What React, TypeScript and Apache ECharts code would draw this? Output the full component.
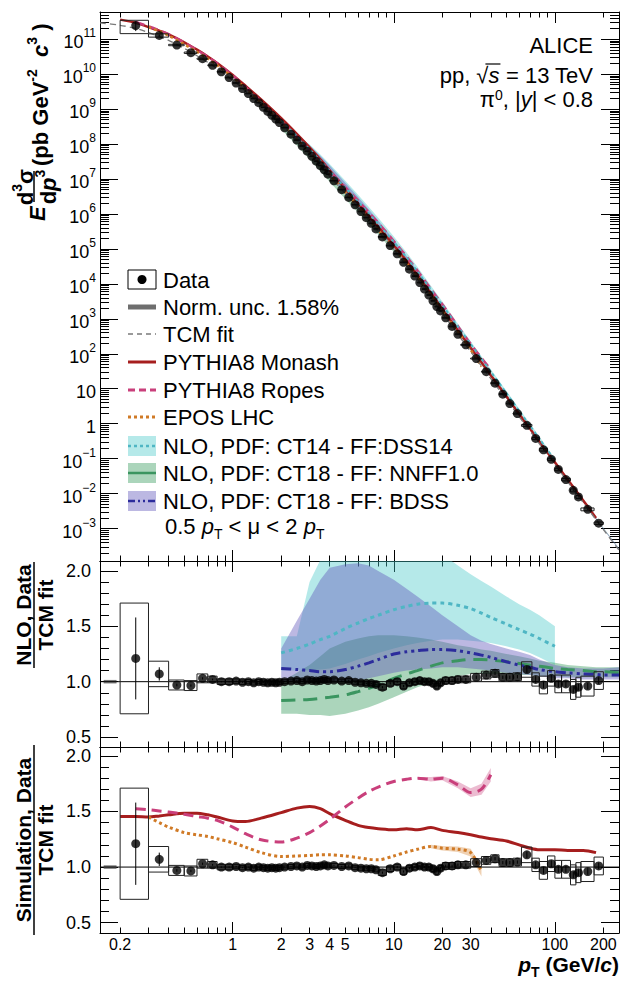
import React, { useEffect, useRef } from 'react';
import * as echarts from 'echarts';

const FONT = '"Liberation Sans", Arial, Helvetica, sans-serif';

// ---------- axis ranges & ticks ----------
const X_MIN = 0.15;
const X_MAX = 250;
const SPEC_MIN = 1.175e-4;
const SPEC_MAX = 6.03e11;
const R2_MIN = 0.41;
const R2_MAX = 2.09;
const R3_MIN = 0.407;
const R3_MAX = 2.08;

const xLabelValues = [0.2, 1, 2, 3, 4, 5, 10, 20, 30, 100, 200];
const xMajorTicks = [1, 10, 100];
const xMinorTicks = [0.2, 0.3, 0.4, 0.5, 0.6, 0.7, 0.8, 0.9, 2, 3, 4, 5, 6, 7, 8, 9, 20, 30, 40, 50, 60, 70, 80, 90, 200];
const specMajorTicks = [1e-3, 1e-2, 1e-1, 1, 10, 1e2, 1e3, 1e4, 1e5, 1e6, 1e7, 1e8, 1e9, 1e10, 1e11];
const specMinorTicks: number[] = [];
for (let e = -4; e <= 11; e++) for (let m = 2; m <= 9; m++) specMinorTicks.push(m * Math.pow(10, e));
const ratioLabelValues = [0.5, 1.0, 1.5, 2.0];
const ratioMinorTicks = [0.5, 0.6, 0.7, 0.8, 0.9, 1.0, 1.1, 1.2, 1.3, 1.4, 1.5, 1.6, 1.7, 1.8, 1.9, 2.0];

// ---------- data points ----------
const ptC = [0.25, 0.35, 0.45, 0.55, 0.65, 0.75, 0.85, 0.95, 1.05, 1.15, 1.25, 1.35, 1.45, 1.55, 1.65, 1.75, 1.85, 1.95,
  2.1, 2.3, 2.5, 2.7, 2.9, 3.1, 3.3, 3.5, 3.7, 3.9,
  4.25, 4.75, 5.25, 5.75, 6.25, 6.75, 7.25, 7.75,
  8.5, 9.5, 10.5, 11.5, 12.5, 13.5, 14.5, 15.5, 16.5, 17.5, 18.5, 19.5,
  21, 23, 25, 28,
  32.5, 37.5, 42.5, 47.5, 52.5, 58.5, 67, 76, 85, 95, 105, 117, 130, 140, 160, 187];
const ptLo = [0.2, 0.3, 0.4, 0.5, 0.6, 0.7, 0.8, 0.9, 1.0, 1.1, 1.2, 1.3, 1.4, 1.5, 1.6, 1.7, 1.8, 1.9,
  2.0, 2.2, 2.4, 2.6, 2.8, 3.0, 3.2, 3.4, 3.6, 3.8,
  4.0, 4.5, 5.0, 5.5, 6.0, 6.5, 7.0, 7.5,
  8, 9, 10, 11, 12, 13, 14, 15, 16, 17, 18, 19,
  20, 22, 24, 26,
  30, 35, 40, 45, 50, 55, 62, 72, 80, 90, 100, 110, 125, 135, 145, 175];
const ptHi = [0.3, 0.4, 0.5, 0.6, 0.7, 0.8, 0.9, 1.0, 1.1, 1.2, 1.3, 1.4, 1.5, 1.6, 1.7, 1.8, 1.9, 2.0,
  2.2, 2.4, 2.6, 2.8, 3.0, 3.2, 3.4, 3.6, 3.8, 4.0,
  4.5, 5.0, 5.5, 6.0, 6.5, 7.0, 7.5, 8.0,
  9, 10, 11, 12, 13, 14, 15, 16, 17, 18, 19, 20,
  22, 24, 26, 30,
  35, 40, 45, 50, 55, 62, 72, 80, 90, 100, 110, 125, 135, 145, 175, 200];
const dataRatio = [1.21, 1.07, 0.97, 0.965, 1.03, 1.02, 1.0, 1.0, 1.005, 0.995, 1.0, 0.99, 1.0, 0.995, 0.99, 0.995, 0.99, 0.995,
  1.0, 1.005, 1.01, 1.0, 1.015, 1.01, 1.005, 1.01, 1.02, 1.01,
  1.015, 1.005, 1.01, 0.995, 0.99, 0.985, 0.985, 0.975,
  0.95, 0.985, 1.0, 0.96, 0.99, 1.0, 1.01, 1.0, 1.0, 0.985, 0.96, 0.99,
  1.01, 1.01, 1.02, 1.02,
  1.04, 1.06, 1.075, 1.04, 1.04, 1.045, 1.11, 1.02, 0.97, 1.03, 0.98, 0.98, 0.93, 0.95, 0.96, 1.01];
const statErr = [0.37, 0.06, 0.012, 0.01, 0.01, 0.008, 0.006, 0.006, 0.005, 0.005, 0.005, 0.005, 0.005, 0.005, 0.005, 0.005, 0.005, 0.005,
  0.005, 0.005, 0.005, 0.005, 0.005, 0.005, 0.005, 0.005, 0.005, 0.005,
  0.006, 0.006, 0.006, 0.006, 0.006, 0.006, 0.006, 0.006,
  0.01, 0.01, 0.01, 0.01, 0.01, 0.01, 0.01, 0.01, 0.01, 0.01, 0.01, 0.01,
  0.012, 0.012, 0.012, 0.012,
  0.015, 0.015, 0.015, 0.015, 0.015, 0.015, 0.03, 0.03, 0.03, 0.03, 0.03, 0.03, 0.03, 0.03, 0.03, 0.03];
const sysErr = [0.5, 0.115, 0.045, 0.045, 0.04, 0.03, 0.025, 0.025, 0.02, 0.02, 0.02, 0.02, 0.02, 0.02, 0.02, 0.02, 0.02, 0.02,
  0.018, 0.018, 0.018, 0.018, 0.018, 0.018, 0.018, 0.018, 0.018, 0.018,
  0.018, 0.018, 0.018, 0.018, 0.018, 0.018, 0.018, 0.018,
  0.025, 0.025, 0.025, 0.025, 0.025, 0.025, 0.025, 0.025, 0.025, 0.025, 0.025, 0.025,
  0.03, 0.03, 0.03, 0.03,
  0.035, 0.035, 0.035, 0.035, 0.035, 0.035, 0.07, 0.06, 0.08, 0.07, 0.08, 0.08, 0.09, 0.09, 0.09, 0.08];
const spectrum = [2.47e11, 1.29e11, 6.85e10, 4.12e10, 2.78e10, 1.80e10, 1.175e10, 8.02e9, 5.61e9, 3.90e9,
  2.80e9, 2.02e9, 1.53e9, 1.135e9, 8.59e8, 6.65e8, 5.19e8, 4.14e8,
  2.94e8, 1.92e8, 1.30e8, 8.81e7, 6.29e7, 4.49e7, 3.25e7, 2.42e7, 1.84e7, 1.38e7,
  8.92e6, 4.98e6, 2.98e6, 1.84e6, 1.18e6, 7.86e5, 5.40e5, 3.74e5,
  2.21e5, 1.245e5, 7.23e4, 4.14e4, 2.63e4, 1.67e4, 1.09e4, 7.11e3, 4.81e3, 3.27e3, 2.25e3, 1.68e3,
  1.07e3, 605, 362, 180,
  73.1, 30.8, 14.4, 7.0, 3.77, 1.94, 0.894, 0.377, 0.179, 0.0957, 0.049, 0.0251, 0.0124, 0.00802, 0.00354, 0.00142];
const normUnc = 0.0158;

// ---------- curves ----------
const gridPt = [0.15, 0.2, 0.25, 0.3, 0.35, 0.4, 0.5, 0.6, 0.7, 0.8, 1.0, 1.2, 1.5, 2, 2.5, 3, 3.5, 4, 5, 6, 7, 8, 10, 12, 14, 17, 20, 25, 30, 35, 40, 50, 60, 70, 80, 100, 120, 150, 180, 200, 250];
const tcmFit = [2.95e11, 2.51e11, 2.04e11, 1.55e11, 1.20e11, 9.33e10, 5.50e10, 3.39e10, 2.19e10, 1.45e10, 6.76e9, 3.31e9, 1.32e9, 3.72e8, 1.29e8, 5.25e7, 2.40e7, 1.20e7, 3.80e6, 1.48e6, 6.61e5, 3.24e5, 9.55e4, 3.39e4, 1.35e4, 3.98e3, 1.45e3, 355, 115, 44.7, 19.5, 4.90, 1.58, 0.617, 0.269, 0.0676, 0.0219, 0.0055, 0.00178, 0.00093, 0.00024];
const monashRatio = [null, 1.455, 1.455, 1.45, 1.46, 1.47, 1.485, 1.485, 1.47, 1.45, 1.415, 1.41, 1.44, 1.49, 1.53, 1.545, 1.525, 1.48, 1.42, 1.375, 1.355, 1.345, 1.335, 1.345, 1.335, 1.355, 1.33, 1.31, 1.29, 1.27, 1.255, 1.235, 1.2, 1.17, 1.155, 1.155, 1.15, 1.15, 1.13, null, null];
const ropesRatio = [null, null, 1.525, 1.515, 1.505, 1.495, 1.475, 1.455, 1.44, 1.42, 1.36, 1.3, 1.245, 1.225, 1.26, 1.31, 1.37, 1.43, 1.54, 1.62, 1.68, 1.72, 1.77, 1.79, 1.8, 1.79, 1.8, 1.74, 1.67, 1.7, 1.83, null, null, null, null, null, null, null, null, null, null];
const ropesErr = [null, null, null, null, null, null, null, null, null, null, null, null, null, null, null, null, null, null, null, null, null, null, null, null, 0.01, 0.02, 0.02, 0.03, 0.04, 0.05, 0.06, null, null, null, null, null, null, null, null, null, null];
const eposRatio = [null, null, null, 1.45, 1.4, 1.36, 1.31, 1.29, 1.275, 1.255, 1.22, 1.18, 1.13, 1.095, 1.1, 1.105, 1.11, 1.11, 1.1, 1.085, 1.07, 1.065, 1.1, 1.135, 1.16, 1.185, 1.17, 1.16, 1.13, 0.96, null, null, null, null, null, null, null, null, null, null, null];
const eposErr = [null, null, null, null, null, null, null, null, null, null, null, null, null, null, null, null, null, null, null, null, null, null, null, null, null, 0.015, 0.02, 0.025, 0.035, 0.045, null, null, null, null, null, null, null, null, null, null, null];

// NLO on pT = 2 ... 250 (gridPt from index 13)
const NLO_START = 13;
const ct14Mid = [1.26, 1.3, 1.34, 1.38, 1.41, 1.48, 1.53, 1.57, 1.6, 1.65, 1.68, 1.7, 1.71, 1.71, 1.69, 1.66, 1.62, 1.58, 1.52, 1.47, 1.43, 1.39, 1.32, null, null, null, null, null];
const ct14Hi = [1.41, 1.41, 1.9, 2.1, 2.25, 2.35, 2.4, 2.4, 2.4, 2.38, 2.34, 2.3, 2.22, 2.15, 2.05, 1.97, 1.91, 1.86, 1.77, 1.7, 1.65, 1.6, 1.5, null, null, null, null, null];
const ct14Lo = [1.1, 1.1, 1.1, 1.11, 1.12, 1.16, 1.2, 1.23, 1.26, 1.3, 1.33, 1.35, 1.37, 1.38, 1.38, 1.37, 1.36, 1.35, 1.32, 1.29, 1.26, 1.22, 1.15, null, null, null, null, null];
const bdssMid = [1.12, 1.11, 1.1, 1.09, 1.09, 1.11, 1.14, 1.17, 1.2, 1.25, 1.27, 1.28, 1.29, 1.29, 1.28, 1.26, 1.24, 1.22, 1.18, 1.15, 1.13, 1.11, 1.09, 1.08, 1.07, 1.065, 1.06, 1.06];
const bdssHi = [1.3, 1.55, 1.75, 1.92, 2.03, 2.06, 2.07, 2.05, 2.0, 1.92, 1.84, 1.77, 1.68, 1.6, 1.5, 1.42, 1.37, 1.34, 1.3, 1.27, 1.24, 1.2, 1.15, 1.13, 1.12, 1.12, 1.12, 1.13];
const bdssLo = [1.0, 1.0, 0.99, 0.99, 0.99, 1.0, 1.01, 1.03, 1.05, 1.08, 1.1, 1.11, 1.12, 1.13, 1.13, 1.12, 1.11, 1.1, 1.08, 1.07, 1.06, 1.05, 1.03, 1.03, 1.02, 1.02, 1.02, 1.02];
const nnffMid = [0.83, 0.835, 0.84, 0.85, 0.86, 0.88, 0.91, 0.94, 0.97, 1.03, 1.07, 1.1, 1.14, 1.17, 1.19, 1.2, 1.2, 1.195, 1.18, 1.165, 1.15, 1.14, 1.12, 1.11, 1.1, 1.09, 1.09, 1.08];
const nnffHi = [1.0, 1.08, 1.15, 1.23, 1.3, 1.36, 1.39, 1.41, 1.42, 1.42, 1.41, 1.4, 1.38, 1.36, 1.33, 1.31, 1.29, 1.28, 1.25, 1.23, 1.21, 1.19, 1.17, 1.15, 1.14, 1.13, 1.13, 1.13];
const nnffLo = [0.71, 0.71, 0.7, 0.7, 0.69, 0.71, 0.74, 0.77, 0.8, 0.86, 0.91, 0.95, 0.99, 1.02, 1.05, 1.07, 1.07, 1.07, 1.07, 1.06, 1.06, 1.05, 1.05, 1.04, 1.04, 1.04, 1.04, 1.04];

// ---------- colours ----------
const C_MONASH = '#a61e1e';
const C_ROPES = '#c93f7b';
const C_EPOS = '#d07a26';
const C_TCM = '#7a7a7a';
const C_CT14 = '#4fb6c4';
const C_NNFF = '#3b9560';
const C_BDSS = '#2c2c9c';
const F_CT14 = 'rgba(70,200,200,0.40)';
const F_NNFF = 'rgba(45,150,85,0.40)';
const F_BDSS = 'rgba(95,85,185,0.42)';
const F_ROPES = 'rgba(201,63,123,0.35)';
const F_EPOS = 'rgba(208,122,38,0.35)';

const axisLineStyle = { color: '#000', width: 1 };

function makeX(grid: number, labels: boolean) {
  const base: any = { type: 'log', logBase: 10, min: X_MIN, max: X_MAX, gridIndex: grid, splitLine: { show: false } };
  const lab = labels
    ? { show: true, customValues: xLabelValues, formatter: (v: number) => String(v), fontSize: 16, lineHeight: 16, color: '#000', fontFamily: FONT, margin: 3 }
    : { show: false };
  return [
    { ...base, position: 'bottom', axisLine: { show: true, onZero: false, lineStyle: axisLineStyle }, axisTick: { show: true, inside: true, length: 11, customValues: xMajorTicks, lineStyle: axisLineStyle }, axisLabel: lab },
    { ...base, position: 'bottom', axisLine: { show: false, onZero: false }, axisTick: { show: true, inside: true, length: 5.5, customValues: xMinorTicks, lineStyle: axisLineStyle }, axisLabel: { show: false } },
    { ...base, position: 'top', axisLine: { show: true, onZero: false, lineStyle: axisLineStyle }, axisTick: { show: true, inside: true, length: 11, customValues: xMajorTicks, lineStyle: axisLineStyle }, axisLabel: { show: false } },
    { ...base, position: 'top', axisLine: { show: false, onZero: false }, axisTick: { show: true, inside: true, length: 5.5, customValues: xMinorTicks, lineStyle: axisLineStyle }, axisLabel: { show: false } },
  ];
}

function makeY(grid: number, type: string, min: number, max: number, major: number[], minor: number[], label: any) {
  const base: any = { type, min, max, gridIndex: grid, splitLine: { show: false } };
  if (type === 'log') base.logBase = 10;
  return [
    { ...base, position: 'left', axisLine: { show: true, onZero: false, lineStyle: axisLineStyle }, axisTick: { show: true, inside: true, length: 18, customValues: major, lineStyle: axisLineStyle }, axisLabel: label },
    { ...base, position: 'left', axisLine: { show: false, onZero: false }, axisTick: { show: true, inside: true, length: 9, customValues: minor, lineStyle: axisLineStyle }, axisLabel: { show: false } },
    { ...base, position: 'right', axisLine: { show: true, onZero: false, lineStyle: axisLineStyle }, axisTick: { show: true, inside: true, length: 18, customValues: major, lineStyle: axisLineStyle }, axisLabel: { show: false } },
    { ...base, position: 'right', axisLine: { show: false, onZero: false }, axisTick: { show: true, inside: true, length: 9, customValues: minor, lineStyle: axisLineStyle }, axisLabel: { show: false } },
  ];
}

function clipRect(params: any) {
  const cs = params.coordSys;
  return { type: 'rect', shape: { x: cs.x, y: cs.y, width: cs.width, height: cs.height } };
}

function band(axis: number, pts: number[], lo: (number | null)[], hi: (number | null)[], fill: string, factor?: number[]) {
  return {
    type: 'custom', xAxisIndex: axis, yAxisIndex: axis, clip: true, silent: true, z: 1,
    data: [[pts[0], 1]], encode: { x: 0, y: 1 },
    renderItem: (params: any, api: any) => {
      const up: number[][] = [];
      const dn: number[][] = [];
      pts.forEach((p, i) => {
        if (lo[i] == null || hi[i] == null) return;
        const f = factor ? factor[i] : 1;
        up.push(api.coord([p, (hi[i] as number) * f]));
        dn.push(api.coord([p, (lo[i] as number) * f]));
      });
      return {
        type: 'polygon', shape: { points: up.concat(dn.reverse()) },
        style: { fill, stroke: 'none' }, clipPath: clipRect(params),
      };
    },
  };
}

function curve(axis: number, pts: number[], vals: (number | null)[], color: string, width: number, type: any, factor?: number[], z = 3) {
  const data: number[][] = [];
  pts.forEach((p, i) => {
    if (vals[i] != null) data.push([p, (vals[i] as number) * (factor ? factor[i] : 1)]);
  });
  return {
    type: 'line', xAxisIndex: axis, yAxisIndex: axis, data, showSymbol: false, symbol: 'none', smooth: 0.3,
    lineStyle: { color, width, type }, silent: true, z, animation: false,
  };
}

function dataSeries(axis: number, yv: number[], statAbs: number[], sysAbs: number[], size: number) {
  const rows = ptC.map((c, i) => [c, ptLo[i], ptHi[i], yv[i], yv[i] - statAbs[i], yv[i] + statAbs[i], yv[i] - sysAbs[i], yv[i] + sysAbs[i]]);
  return [
    {
      type: 'custom', xAxisIndex: axis, yAxisIndex: axis, clip: true, silent: true, z: 5,
      data: rows, encode: { x: 0, y: 3 },
      renderItem: (params: any, api: any) => {
        const a = api.coord([api.value(1), api.value(7)]);
        const b = api.coord([api.value(2), api.value(6)]);
        const s1 = api.coord([api.value(0), api.value(5)]);
        const s2 = api.coord([api.value(0), api.value(4)]);
        return {
          type: 'group', clipPath: clipRect(params),
          children: [
            { type: 'rect', shape: { x: a[0], y: a[1], width: b[0] - a[0], height: b[1] - a[1] }, style: { fill: 'none', stroke: '#222', lineWidth: 1 } },
            { type: 'line', shape: { x1: s1[0], y1: s1[1], x2: s2[0], y2: s2[1] }, style: { stroke: '#000', lineWidth: 1 } },
          ],
        };
      },
    },
    {
      type: 'scatter', xAxisIndex: axis, yAxisIndex: axis, data: ptC.map((c, i) => [c, yv[i]]),
      symbol: 'circle', symbolSize: size, itemStyle: { color: '#000' }, silent: true, z: 6,
    },
  ];
}

function normBox(axis: number) {
  return {
    type: 'custom', xAxisIndex: axis, yAxisIndex: axis, silent: true, z: 4,
    data: [[0.158, 1]], encode: { x: 0, y: 1 },
    renderItem: (params: any, api: any) => {
      const a = api.coord([0.158, 1 + normUnc]);
      const b = api.coord([0.19, 1 - normUnc]);
      return { type: 'rect', shape: { x: a[0], y: a[1], width: b[0] - a[0], height: Math.max(2, b[1] - a[1]) }, style: { fill: '#777' } };
    },
  };
}

function unityLine(axis: number) {
  return {
    type: 'line', xAxisIndex: axis, yAxisIndex: axis, data: [[X_MIN, 1], [X_MAX, 1]], showSymbol: false, symbol: 'none',
    lineStyle: { color: '#000', width: 1 }, silent: true, z: 4,
  };
}

function measure(t: string, font: string) {
  const ctx = document.createElement('canvas').getContext('2d');
  if (!ctx) return t.length * 10;
  ctx.font = font;
  return ctx.measureText(t).width;
}

function buildOption() {
  const P1 = 0, P2 = 4, P3 = 8;
  const nloPt = gridPt.slice(NLO_START);
  const nloTcm = tcmFit.slice(NLO_START);
  const spec = (arr: number[]) => arr.map((e, i) => (spectrum[i] * e) / dataRatio[i]);

  const specLabel = {
    show: true, customValues: specMajorTicks, margin: 4, color: '#000', fontFamily: FONT, fontSize: 18,
    formatter: (v: number) => {
      const e = Math.round(Math.log10(v));
      if (e === 0) return '{b|1}';
      if (e === 1) return '{b|10}';
      return '{b|10}{s|' + (e < 0 ? '\u2212' + -e : String(e)) + '}';
    },
    rich: {
      b: { fontSize: 18, fontFamily: FONT, color: '#000', lineHeight: 24, verticalAlign: 'bottom' },
      s: { fontSize: 12, fontFamily: FONT, color: '#000', lineHeight: 12, verticalAlign: 'top' },
    },
  };
  const ratioLabel = {
    show: true, customValues: ratioLabelValues, margin: 9, color: '#000', fontFamily: FONT, fontSize: 18,
    formatter: (v: number) => v.toFixed(1),
  };

  const ropesLo = ropesRatio.map((r, i) => (r != null && ropesErr[i] != null ? r - (ropesErr[i] as number) : null));
  const ropesHi = ropesRatio.map((r, i) => (r != null && ropesErr[i] != null ? r + (ropesErr[i] as number) : null));
  const eposLo = eposRatio.map((r, i) => (r != null && eposErr[i] != null ? r - (eposErr[i] as number) : null));
  const eposHi = eposRatio.map((r, i) => (r != null && eposErr[i] != null ? r + (eposErr[i] as number) : null));

  const series: any[] = [
    // ---- panel 1 ----
    band(P1, nloPt, ct14Lo, ct14Hi, F_CT14, nloTcm),
    band(P1, nloPt, nnffLo, nnffHi, F_NNFF, nloTcm),
    band(P1, nloPt, bdssLo, bdssHi, F_BDSS, nloTcm),
    curve(P1, gridPt, monashRatio, C_MONASH, 2.5, 'solid', tcmFit),
    curve(P1, gridPt, ropesRatio, C_ROPES, 2.5, [9, 5], tcmFit),
    curve(P1, gridPt, eposRatio, C_EPOS, 2.5, [3, 3], tcmFit),
    curve(P1, nloPt, ct14Mid, C_CT14, 2, [3, 3], nloTcm),
    curve(P1, gridPt, gridPt.map(() => 1), C_TCM, 1.3, [6, 4], tcmFit, 4),
    ...dataSeries(P1, spectrum, spec(statErr), spec(sysErr), 9),
    // ---- panel 2 ----
    band(P2, nloPt, ct14Lo, ct14Hi, F_CT14),
    band(P2, nloPt, nnffLo, nnffHi, F_NNFF),
    band(P2, nloPt, bdssLo, bdssHi, F_BDSS),
    curve(P2, nloPt, ct14Mid, C_CT14, 3, [4, 4]),
    curve(P2, nloPt, nnffMid, C_NNFF, 3, [14, 8]),
    curve(P2, nloPt, bdssMid, C_BDSS, 3, [10, 4, 3, 4, 3, 4]),
    unityLine(P2),
    normBox(P2),
    ...dataSeries(P2, dataRatio, statErr, sysErr, 9),
    // ---- panel 3 ----
    band(P3, gridPt, ropesLo, ropesHi, F_ROPES),
    band(P3, gridPt, eposLo, eposHi, F_EPOS),
    curve(P3, gridPt, monashRatio, C_MONASH, 3, 'solid'),
    curve(P3, gridPt, ropesRatio, C_ROPES, 3, [10, 6]),
    curve(P3, gridPt, eposRatio, C_EPOS, 3, [3, 3]),
    unityLine(P3),
    normBox(P3),
    ...dataSeries(P3, dataRatio, statErr, sysErr, 9),
  ];

  // ---------- graphic texts ----------
  const fs = 22;
  const wRest = measure(' = 13 TeV', `${fs}px ${FONT}`);
  const wS = measure('s', `italic ${fs}px ${FONT}`);
  const wRad = measure('\u221a', `${fs}px ${FONT}`);
  const HX = 593;
  const rich22 = {
    n: { fontSize: fs, fontFamily: FONT, fill: '#000', lineHeight: 22, verticalAlign: 'bottom' },
    i: { fontSize: fs, fontFamily: FONT, fontStyle: 'italic', fill: '#000', lineHeight: 22, verticalAlign: 'bottom' },
    s: { fontSize: 14, fontFamily: FONT, fill: '#000', lineHeight: 13, verticalAlign: 'top' },
  };
  const legRich = {
    n: { fontSize: 22, fontFamily: FONT, fill: '#000', lineHeight: 26, verticalAlign: 'top' },
    i: { fontSize: 22, fontFamily: FONT, fontStyle: 'italic', fill: '#000', lineHeight: 26, verticalAlign: 'top' },
    sub: { fontSize: 14, fontFamily: FONT, fill: '#000', lineHeight: 12, verticalAlign: 'bottom' },
  };
  const boldRich = {
    b: { fontSize: 22, fontFamily: FONT, fontWeight: 'bold', fill: '#000', lineHeight: 26, verticalAlign: 'bottom' },
    bi: { fontSize: 22, fontFamily: FONT, fontWeight: 'bold', fontStyle: 'italic', fill: '#000', lineHeight: 26, verticalAlign: 'bottom' },
    s: { fontSize: 14, fontFamily: FONT, fontWeight: 'bold', fill: '#000', lineHeight: 14, verticalAlign: 'top' },
  };
  const xRich = {
    b: { fontSize: 21, fontFamily: FONT, fontWeight: 'bold', fill: '#000', lineHeight: 20 },
    bi: { fontSize: 21, fontFamily: FONT, fontWeight: 'bold', fontStyle: 'italic', fill: '#000', lineHeight: 20 },
  };
  // x-axis title pieces: "p" + subscript "T" + " (GeV/c)"
  const XR = 619;
  const XY = 964;
  const wTail = measure(' (GeV/', `bold 21px ${FONT}`) + measure('c', `italic bold 21px ${FONT}`) + measure(')', `bold 21px ${FONT}`);
  const wT = measure('T', `bold 14px ${FONT}`);

  const LX0 = 128, LX1 = 156, LTX = 163;
  const rows = [280, 307, 334, 362, 390, 417, 446, 473, 501];
  const legText = (y: number, t: string) => ({ type: 'text', x: LTX, y, style: { text: t, fontSize: 22, fontFamily: FONT, fill: '#000', align: 'left', verticalAlign: 'middle' } });
  const legLine = (y: number, color: string, width: number, dash: any) => ({ type: 'line', shape: { x1: LX0, y1: y, x2: LX1, y2: y }, style: { stroke: color, lineWidth: width, lineDash: dash } });
  const legBox = (y: number, fill: string) => ({ type: 'rect', shape: { x: LX0, y: y - 10, width: LX1 - LX0, height: 20 }, style: { fill } });

  const graphic: any[] = [
    { type: 'text', x: HX, y: 45, style: { text: 'ALICE', fontSize: fs, fontFamily: FONT, fill: '#000', align: 'right', verticalAlign: 'middle' } },
    { type: 'text', x: HX, y: 75, style: { text: '{n|pp, \u221a}{i|s}{n| = 13 TeV}', rich: rich22, align: 'right', verticalAlign: 'middle' } },
    { type: 'line', shape: { x1: HX - wRest - wS - wRad * 0.25, y1: 64, x2: HX - wRest + 1, y2: 64 }, style: { stroke: '#000', lineWidth: 1.2 } },
    { type: 'text', x: HX, y: 99, style: { text: '{n|\u03c0}{s|0}{n|, |}{i|y}{n|| < 0.8}', rich: rich22, align: 'right', verticalAlign: 'middle' } },
    // legend
    { type: 'rect', shape: { x: LX0, y: 270, width: LX1 - LX0, height: 19 }, style: { fill: 'none', stroke: '#000', lineWidth: 1 } },
    { type: 'circle', shape: { cx: (LX0 + LX1) / 2, cy: 279.5, r: 4.5 }, style: { fill: '#000' } },
    legText(rows[0], 'Data'),
    legLine(rows[1], '#6e6e6e', 5, null),
    legText(rows[1], 'Norm. unc. 1.58%'),
    legLine(rows[2], C_TCM, 1.3, [5, 4]),
    legText(rows[2], 'TCM fit'),
    legLine(rows[3], C_MONASH, 3, null),
    legText(rows[3], 'PYTHIA8 Monash'),
    legLine(rows[4], C_ROPES, 3, [7, 4]),
    legText(rows[4], 'PYTHIA8 Ropes'),
    legLine(rows[5], C_EPOS, 3, [3, 3]),
    legText(rows[5], 'EPOS LHC'),
    legBox(rows[6], 'rgba(70,200,200,0.40)'),
    legLine(rows[6], C_CT14, 2.5, [3, 3]),
    legText(rows[6], 'NLO, PDF: CT14 - FF:DSS14'),
    legBox(rows[7], 'rgba(45,150,85,0.40)'),
    legLine(rows[7], C_NNFF, 2.5, null),
    legText(rows[7], 'NLO, PDF: CT18 - FF: NNFF1.0'),
    legBox(rows[8], 'rgba(95,85,185,0.42)'),
    legLine(rows[8], C_BDSS, 2.5, [7, 3, 2, 3, 2, 3]),
    legText(rows[8], 'NLO, PDF: CT18 - FF: BDSS'),
    { type: 'text', x: 165, y: 528, style: { text: '{n|0.5 }{i|p}{sub|T}{n| < \u03bc < 2 }{i|p}{sub|T}', rich: legRich, align: 'left', verticalAlign: 'middle' } },
    // y titles
    {
      type: 'group', x: 37, y: 221, rotation: Math.PI / 2,
      children: [
        { type: 'text', x: 0, y: 0, style: { text: 'E', fontSize: 22, fontFamily: FONT, fontWeight: 'bold', fontStyle: 'italic', fill: '#000', align: 'left', verticalAlign: 'middle' } },
        { type: 'text', x: 34, y: -14, style: { text: '{b|d}{s|3}{b|\u03c3}', rich: boldRich, align: 'center', verticalAlign: 'middle' } },
        { type: 'line', shape: { x1: 19, y1: -3, x2: 50, y2: -3 }, style: { stroke: '#000', lineWidth: 1.5 } },
        { type: 'text', x: 34, y: 9, style: { text: '{b|d}{bi|p}{s|3}', rich: boldRich, align: 'center', verticalAlign: 'middle' } },
        { type: 'text', x: 55, y: 1, style: { text: '{b|(pb GeV}{s|-2}{b|  }{bi|c}{s|3}{b| )}', rich: boldRich, align: 'left', verticalAlign: 'middle' } },
      ],
    },
    {
      type: 'group', x: 34, y: 615, rotation: Math.PI / 2,
      children: [
        { type: 'text', x: 0, y: -11, style: { text: 'NLO, Data', fontSize: 21, fontWeight: 'bold', fontFamily: FONT, fill: '#000', align: 'center', verticalAlign: 'middle' } },
        { type: 'line', shape: { x1: -53, y1: 0, x2: 53, y2: 0 }, style: { stroke: '#000', lineWidth: 1.5 } },
        { type: 'text', x: 0, y: 11, style: { text: 'TCM fit', fontSize: 21, fontWeight: 'bold', fontFamily: FONT, fill: '#000', align: 'center', verticalAlign: 'middle' } },
      ],
    },
    {
      type: 'group', x: 34, y: 840, rotation: Math.PI / 2,
      children: [
        { type: 'text', x: 0, y: -11, style: { text: 'Simulation, Data', fontSize: 21, fontWeight: 'bold', fontFamily: FONT, fill: '#000', align: 'center', verticalAlign: 'middle' } },
        { type: 'line', shape: { x1: -95, y1: 0, x2: 95, y2: 0 }, style: { stroke: '#000', lineWidth: 1.5 } },
        { type: 'text', x: 0, y: 11, style: { text: 'TCM fit', fontSize: 21, fontWeight: 'bold', fontFamily: FONT, fill: '#000', align: 'center', verticalAlign: 'middle' } },
      ],
    },
    // x title
    { type: 'text', x: XR, y: XY, style: { text: '{b| (GeV/}{bi|c}{b|)}', rich: xRich, align: 'right', verticalAlign: 'middle' } },
    { type: 'text', x: XR - wTail, y: XY + 8, style: { text: 'T', fontSize: 14, lineHeight: 14, fontWeight: 'bold', fontFamily: FONT, fill: '#000', align: 'right', verticalAlign: 'middle' } },
    { type: 'text', x: XR - wTail - wT, y: XY, style: { text: 'p', fontSize: 21, lineHeight: 20, fontWeight: 'bold', fontStyle: 'italic', fontFamily: FONT, fill: '#000', align: 'right', verticalAlign: 'middle' } },
  ];

  return {
    animation: false,
    backgroundColor: '#fff',
    textStyle: { fontFamily: FONT },
    grid: [
      { left: 100, top: 12, width: 519, height: 549, outerBoundsMode: 'none', containLabel: false },
      { left: 100, top: 561, width: 519, height: 186, outerBoundsMode: 'none', containLabel: false },
      { left: 100, top: 747, width: 519, height: 186, outerBoundsMode: 'none', containLabel: false },
    ],
    xAxis: [...makeX(0, false), ...makeX(1, false), ...makeX(2, true)],
    yAxis: [
      ...makeY(0, 'log', SPEC_MIN, SPEC_MAX, specMajorTicks, specMinorTicks, specLabel),
      ...makeY(1, 'value', R2_MIN, R2_MAX, ratioLabelValues, ratioMinorTicks, ratioLabel),
      ...makeY(2, 'value', R3_MIN, R3_MAX, ratioLabelValues, ratioMinorTicks, ratioLabel),
    ],
    series,
    graphic,
  };
}

export default function App() {
  const ref = useRef<HTMLDivElement>(null);
  useEffect(() => {
    if (!ref.current) return;
    const chart = echarts.init(ref.current, null, { renderer: 'svg' });
    chart.setOption(buildOption() as any);
    return () => chart.dispose();
  }, []);
  return <div ref={ref} style={{ position: 'fixed', left: 0, top: 0, width: 621, height: 981, background: '#fff' }} />;
}
